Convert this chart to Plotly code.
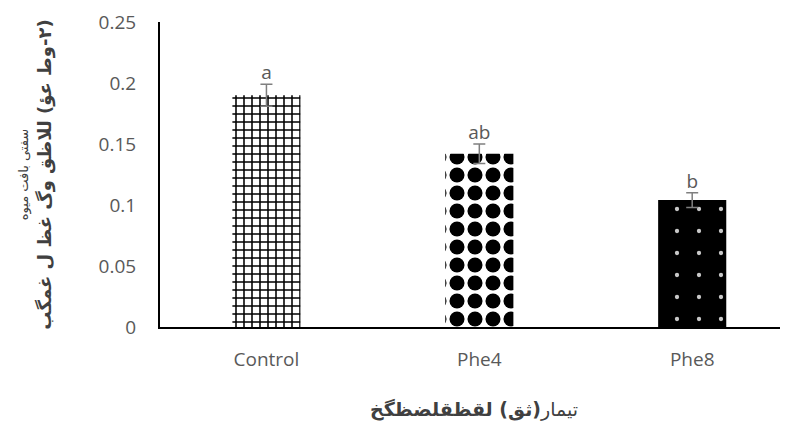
import plotly.graph_objects as go

categories = ["Control", "Phe4", "Phe8"]
values = [0.190, 0.142, 0.104]
errors = [0.009, 0.008, 0.006]
letters = ["a", "ab", "b"]
y_ticks = [0, 0.05, 0.1, 0.15, 0.2, 0.25]
y_tick_labels = ["0", "0.05", "0.1", "0.15", "0.2", "0.25"]

patterns = [
    dict(shape="+", fgcolor="black", bgcolor="white", fgopacity=1, size=8, solidity=0.35),
    dict(shape=".", fgcolor="black", bgcolor="white", fgopacity=1, size=18, solidity=0.55),
    dict(shape=".", fgcolor="#c8c8c8", bgcolor="black", fgopacity=1, size=22, solidity=0.03),
]

fig = go.Figure()
for i, c in enumerate(categories):
    fig.add_trace(go.Bar(
        x=[c], y=[values[i]],
        width=0.32,
        marker=dict(color="white" if i < 2 else "black", pattern=patterns[i], line=dict(width=0)),
        error_y=dict(type="data", array=[errors[i]], color="#7f7f7f", thickness=1.5, width=6),
        showlegend=False,
    ))

fig.add_trace(go.Scatter(
    x=categories, y=[v + e for v, e in zip(values, errors)],
    mode="text", text=letters, textposition="top center",
    textfont=dict(family="Open Sans", size=19, color="#595959"),
    showlegend=False, cliponaxis=False,
))

RLM = "\u200F"

fig.update_layout(
    width=788, height=421,
    margin=dict(l=152, r=8, t=14, b=102),
    paper_bgcolor="white", plot_bgcolor="white",
    xaxis=dict(
        range=[-0.5, 2.45], automargin=False,
        showline=True, linecolor="black", linewidth=2,
        ticks="", showgrid=False, ticklabelstandoff=14,
        tickfont=dict(family="Open Sans", size=19, color="#595959"),
        title=dict(
            text="تیمار<b>(ثق) لقظقلضظگخ</b>",
            font=dict(family="DejaVu Sans", size=19, color="#404040"),
            standoff=32,
        ),
    ),
    yaxis=dict(
        range=[0, 0.25], automargin=False,
        tickvals=y_ticks, ticktext=y_tick_labels,
        showline=True, linecolor="black", linewidth=2,
        ticks="", showgrid=False, zeroline=False, ticklabelstandoff=18,
        tickfont=dict(family="Open Sans", size=19, color="#595959"),
        title=dict(
            text="<span style='font-size:13px;font-weight:normal'>سفتی بافت میوه</span><br><b>" + RLM + "(۲-وط عؤ) للاظق وگ غظ ل غمگب</b>",
            font=dict(family="DejaVu Sans", size=18, color="#404040"),
            standoff=42,
        ),
    ),
)

fig.write_html("out.html")
